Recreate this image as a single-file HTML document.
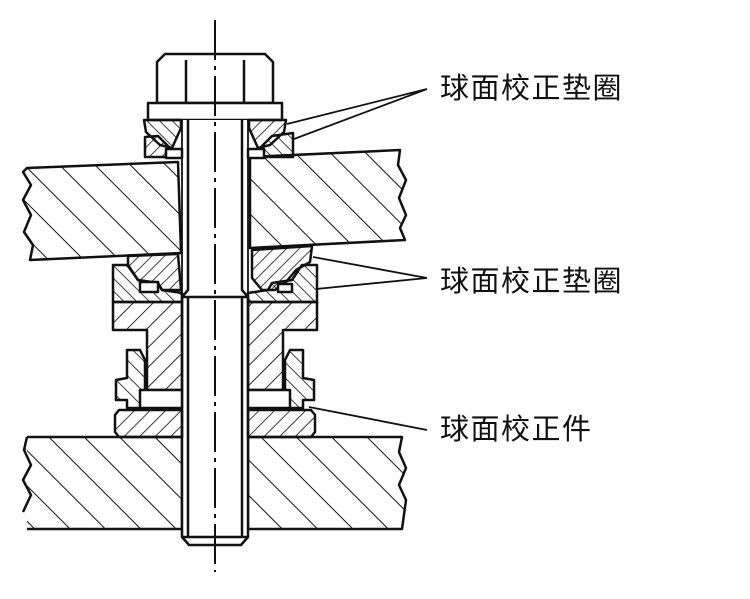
<!DOCTYPE html>
<html><head><meta charset="utf-8"><style>
html,body{margin:0;padding:0;background:#fff;width:750px;height:599px;overflow:hidden}
text{font-family:"Liberation Sans","Noto Sans CJK SC",sans-serif;font-size:29px;letter-spacing:1.5px;fill:#111}
</style></head><body>
<svg width="750" height="599" viewBox="0 0 750 599" xmlns="http://www.w3.org/2000/svg">
<defs>
<pattern id="big" patternUnits="userSpaceOnUse" width="25" height="25" patternTransform="rotate(-45)">
<line x1="0" y1="0" x2="0" y2="25" stroke="#111" stroke-width="2"/></pattern>
<pattern id="sf" patternUnits="userSpaceOnUse" width="9" height="9" patternTransform="rotate(45)">
<line x1="0" y1="0" x2="0" y2="9" stroke="#111" stroke-width="1.6"/></pattern>
<pattern id="sb" patternUnits="userSpaceOnUse" width="9" height="9" patternTransform="rotate(-45)">
<line x1="0" y1="0" x2="0" y2="9" stroke="#111" stroke-width="1.6"/></pattern>
<pattern id="mf" patternUnits="userSpaceOnUse" width="14" height="14" patternTransform="rotate(45)">
<line x1="0" y1="0" x2="0" y2="14" stroke="#111" stroke-width="1.8"/></pattern>
<pattern id="mb" patternUnits="userSpaceOnUse" width="11" height="11" patternTransform="rotate(-45)">
<line x1="0" y1="0" x2="0" y2="11" stroke="#111" stroke-width="1.6"/></pattern>
<pattern id="rf" patternUnits="userSpaceOnUse" width="11" height="11" patternTransform="rotate(45)">
<line x1="0" y1="0" x2="0" y2="11" stroke="#111" stroke-width="1.6"/></pattern>
</defs>
<g stroke="#111" stroke-width="2.5" fill="none" stroke-linejoin="round">
<path d="M27,168 L178,162 L181,253 L30,260 L33,245 L24,232 L31,215 L23,200 L31,185 L23,172 Z" fill="url(#big)"/>
<path d="M250,157 L400,150 L398,165 L406,180 L399,198 L406,215 L400,228 L405,240 L250,248 Z" fill="url(#big)"/>
<path d="M27,437 L182,437 L182,529 L27,529 M27,437 L24,450 L31,465 L23,480 L31,495 L23,512 L27,437 Z" fill="url(#big)" stroke="none"/>
<path d="M27,437 L182,437 L182,529 L27,529 M27,437 L24,450 L31,465 L23,480 L31,495 L23,512"/>
<path d="M248,437 L402,437 L399,452 L406,468 L399,485 L406,500 L402,529 L248,529 Z" fill="url(#big)"/>
<path d="M157,103 V62 L165,54 H265 L273,62 V103 Z" fill="#fff"/>
<path d="M186,60 V103 M244,60 V103"/>
<rect x="148" y="103" width="134" height="17" fill="#fff"/>
<rect x="183" y="120" width="64" height="417" fill="#fff" stroke="none"/>
<path d="M188,120 V290 L182,297 V537 L189,545 H241 L248,537 V297 L242,290 V120"/>
<path d="M188,297 V537 M242,297 V537 M182,297 H248 M182,537 H248"/>
<path d="M182,120 V297 M248,120 V297" stroke-width="1.8"/>
<path d="M144,120 H181 V128 L172,148 L160,145 L146,132 Z" fill="url(#sb)"/>
<path d="M145,137 L158,136 L172,150 V157 H145 Z" fill="url(#sf)"/>
<path d="M166,149 H182 V158 H166 Z" fill="#fff"/>
<path d="M286,120 H249 V128 L258,148 L270,145 L284,132 Z" fill="url(#sf)"/>
<path d="M293,133 L272,136 L258,150 V157 H293 Z" fill="url(#sb)"/>
<path d="M264,149 H248 V158 H264 Z" fill="#fff"/>
<path d="M113,265 L128,265 L138,280 L158,283 L162,290 L182,293 V302 H113 Z" fill="url(#sb)"/>
<path d="M128,256 L178,254 L181,290 L162,290 L158,283 L138,280 L128,266 Z" fill="url(#sf)"/>
<path d="M140,282 H158 V292 H140 Z" fill="#fff"/>
<path d="M317,265 L302,265 L292,280 L272,283 L268,290 L248,293 V302 H317 Z" fill="url(#sb)"/>
<path d="M252,250 L312,246 L310,262 L296,270 L286,282 L275,290 L262,290 L252,278 Z" fill="url(#sf)"/>
<path d="M278,284 H292 V292 H278 Z" fill="#fff"/>
<path d="M113,302 H182 V390 H147 V330 H113 Z" fill="url(#mf)"/>
<path d="M127,350 L140,350 L145,360 V408 H127 V400 L116,400 V380 L127,378 Z" fill="url(#mb)"/>
<path d="M140,390 H182 V408 H140 Z" fill="#fff"/>
<path d="M119,410 H182 V437 H119 L115,432 V415 Z" fill="url(#rf)"/>
<path d="M317,302 H248 V390 H283 V330 H317 Z" fill="url(#mf)"/>
<path d="M303,350 L290,350 L285,360 V408 H303 V400 L314,400 V380 L303,378 Z" fill="url(#mb)"/>
<path d="M290,390 H248 V408 H290 Z" fill="#fff"/>
<path d="M311,410 H248 V437 H311 L315,432 V415 Z" fill="url(#rf)"/>
<path d="M215,20 V572" stroke-width="2" stroke-dasharray="40 6 4 6"/>
<path d="M427,89 L287,124 M427,89 L294,139 M427,278 L313,257 M427,278 L316,289 M427,430 L309,407" stroke-width="1.8"/>
</g>
<text x="440" y="98">球面校正垫圈</text>
<text x="440" y="291">球面校正垫圈</text>
<text x="440" y="439">球面校正件</text>
</svg>
</body></html>
